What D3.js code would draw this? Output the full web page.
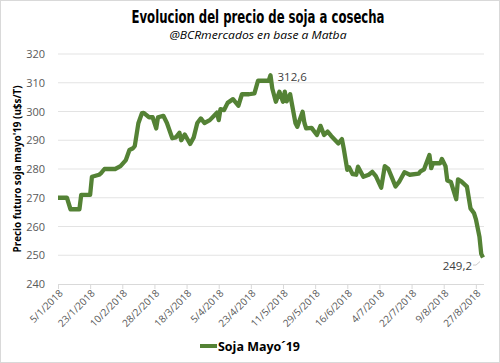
<!DOCTYPE html>
<html><head><meta charset="utf-8">
<script src="https://cdn.jsdelivr.net/npm/d3@7"></script>
<style>body{margin:0;background:#fff}svg{display:block}</style>
</head><body>
<svg id="c" width="500" height="363"></svg>
<script>
const dates = ["2018-01-05","2018-01-10","2018-01-12","2018-01-17","2018-01-18","2018-01-23","2018-01-24","2018-01-28","2018-01-29","2018-01-31",
"2018-02-06","2018-02-09","2018-02-12","2018-02-14","2018-02-16","2018-02-17","2018-02-19","2018-02-21","2018-02-22","2018-02-25","2018-02-27",
"2018-03-01","2018-03-02","2018-03-05","2018-03-07","2018-03-10","2018-03-12","2018-03-14","2018-03-15","2018-03-17","2018-03-20","2018-03-22","2018-03-24","2018-03-26","2018-03-28","2018-03-31",
"2018-04-04","2018-04-05","2018-04-06","2018-04-08","2018-04-10","2018-04-13","2018-04-16","2018-04-18","2018-04-22","2018-04-25","2018-04-27",
"2018-05-03","2018-05-04","2018-05-05","2018-05-07","2018-05-09","2018-05-11","2018-05-12","2018-05-13","2018-05-15","2018-05-18","2018-05-19","2018-05-22","2018-05-23","2018-05-24","2018-05-27","2018-05-30",
"2018-06-01","2018-06-03","2018-06-05","2018-06-07","2018-06-11","2018-06-13","2018-06-14","2018-06-16","2018-06-17","2018-06-19","2018-06-21","2018-06-22","2018-06-25","2018-06-28","2018-06-30",
"2018-07-02","2018-07-05","2018-07-07","2018-07-09","2018-07-11","2018-07-13","2018-07-15","2018-07-18","2018-07-21","2018-07-26","2018-07-27","2018-07-29",
"2018-08-01","2018-08-02","2018-08-03","2018-08-07","2018-08-08","2018-08-10","2018-08-11","2018-08-13","2018-08-16","2018-08-17","2018-08-19","2018-08-22","2018-08-24","2018-08-26","2018-08-27","2018-08-29","2018-08-30","2018-08-31"];
const values = [270,270,266,266,271,271,277.3,278,278.5,280,
280,281,283.1,286.6,287.2,288,295.9,299.4,299.5,298,298,
294.1,298,298.5,296,290.7,291,292.6,290,292,288.7,291,296,297.6,296,297,
299.6,297,300.8,300.5,303,304.3,302,306,306,306.3,310.7,
310.7,312.6,308,303.4,306.9,303.4,306.9,303.5,306,295.9,294.7,299.9,296,294.1,294.3,291.8,
295,291.8,293,291.5,288.9,290.4,287.2,279.7,280.6,278.2,278,280.8,277.3,278,279,
277.5,273.5,281,280,277,273.9,275.5,278.9,278,278.4,279.2,279.9,
284.9,280.3,282,282,283.5,281,276,275.5,269.5,276.4,275.6,273.9,266.3,264.6,262.6,256.5,250.5,249.2];
const tickDates = ["2018-01-05","2018-01-23","2018-02-10","2018-02-28","2018-03-18","2018-04-05","2018-04-23","2018-05-11","2018-05-29","2018-06-16","2018-07-04","2018-07-22","2018-08-09","2018-08-27"];
const yTicks = [240,250,260,270,280,290,300,310,320];
const seriesName = "Soja Mayo´19";
const title = "Evolucion del precio de soja a cosecha";
const subtitle = "@BCRmercados en base a Matba";
const yLabel = "Precio futuro soja mayo'19 (u$s/T)";
const maxLabel = "312,6", lastLabel = "249,2";

const parse = d3.utcParse("%Y-%m-%d");
const data = dates.map((d,i)=>({d:parse(d), v:values[i]}));
const svg = d3.select("#c");
const x = d3.scaleUtc().domain([parse("2018-01-05"), parse("2018-08-31")]).range([58, 483]);
const y = d3.scaleLinear().domain([240,320]).range([284, 54]);
const plotR = 484;
const font = "'Open Sans', 'Liberation Sans', sans-serif";

svg.append("rect").attr("x",0.5).attr("y",0.5).attr("width",499).attr("height",362)
  .attr("fill","#fff").attr("stroke","#d9d9d9");

// gridlines
svg.append("g").selectAll("line").data(yTicks.filter(t=>t>240)).join("line")
  .attr("x1",58).attr("x2",plotR).attr("y1",d=>y(d)).attr("y2",d=>y(d))
  .attr("stroke","#e3e3e3").attr("stroke-width",1);

// y axis labels
const ya = svg.append("g").attr("transform","translate(58,0)")
  .call(d3.axisLeft(y).tickValues(yTicks).tickSize(0).tickPadding(13).tickFormat(d3.format("d")));
ya.select(".domain").remove();
ya.selectAll("text").attr("font-family",font).attr("font-size",11).attr("fill","#595959");

// x axis
const xa = svg.append("g").attr("transform","translate(0,284)")
  .call(d3.axisBottom(x).tickValues(tickDates.map(parse)).tickSize(5).tickFormat(d3.utcFormat("%-d/%-m/%Y")));
xa.select(".domain").attr("d",`M58,0.5H${plotR}`).attr("stroke","#d9d9d9");
xa.selectAll(".tick line").attr("stroke","#d9d9d9");
xa.selectAll(".tick text").attr("font-family",font).attr("font-size",10).attr("fill","#595959")
  .attr("text-anchor","end").attr("dy",0).attr("y",0)
  .attr("transform","translate(5,10) rotate(-45)");

// line
svg.append("path").datum(data)
  .attr("d", d3.line().x(d=>x(d.d)).y(d=>y(d.v)))
  .attr("fill","none").attr("stroke","#548235").attr("stroke-width",4.3)
  .attr("stroke-linejoin","round").attr("stroke-linecap","butt");

// data labels
const maxPt = data.reduce((a,b)=>b.v>a.v?b:a);
svg.append("text").attr("x",x(maxPt.d)+7).attr("y",y(maxPt.v)+6)
  .attr("font-family",font).attr("font-size",11.5).attr("fill","#404040").text(maxLabel);
const lastPt = data[data.length-1];
svg.append("path").attr("d",`M${x(lastPt.d)-10},${y(lastPt.v)+7.5}H${x(lastPt.d)-7}L${x(lastPt.d)-3},${y(lastPt.v)+4}`)
  .attr("fill","none").attr("stroke","#bfbfbf").attr("stroke-width",0.8);
svg.append("text").attr("x",x(lastPt.d)-11).attr("y",y(lastPt.v)+12).attr("text-anchor","end")
  .attr("font-family",font).attr("font-size",11.5).attr("fill","#404040").text(lastLabel);

// titles
svg.append("text").attr("x",258).attr("y",23).attr("text-anchor","middle")
  .attr("font-family","'Liberation Sans Narrow','DejaVu Sans Condensed',sans-serif").attr("font-weight","bold")
  .attr("font-size",17).attr("fill","#000")
  .attr("textLength",253).attr("lengthAdjust","spacingAndGlyphs").text(title);
svg.append("text").attr("x",258).attr("y",39).attr("text-anchor","middle")
  .attr("font-family",font).attr("font-style","italic").attr("font-size",11.5).attr("fill","#000")
  .attr("textLength",177).attr("lengthAdjust","spacingAndGlyphs").text(subtitle);

// y label
svg.append("text").attr("transform","translate(21,169) rotate(-90)").attr("text-anchor","middle")
  .attr("font-family",font).attr("font-weight","bold").attr("font-size",10.5).attr("fill","#000")
  .attr("textLength",167).attr("lengthAdjust","spacingAndGlyphs").text(yLabel);

// legend
svg.append("line").attr("x1",200).attr("x2",217).attr("y1",346).attr("y2",346)
  .attr("stroke","#548235").attr("stroke-width",4);
svg.append("text").attr("x",218).attr("y",351).attr("font-family",font).attr("font-weight","bold")
  .attr("font-size",13).attr("fill","#000").attr("textLength",82).attr("lengthAdjust","spacingAndGlyphs").text(seriesName);
</script>
</body></html>
